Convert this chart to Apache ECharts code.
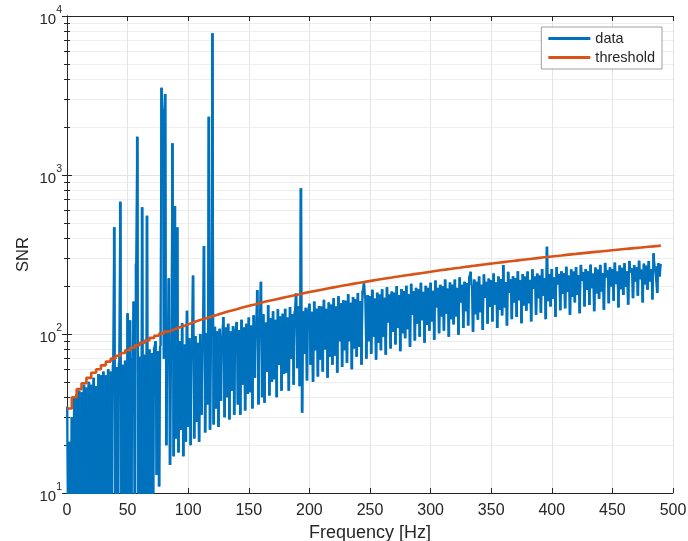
<!DOCTYPE html>
<html>
<head>
<meta charset="utf-8">
<script src="https://cdn.jsdelivr.net/npm/echarts@6/dist/echarts.min.js"></script>
<style>
html, body { margin: 0; padding: 0; background: #fff; }
#main { width: 688px; height: 541px; }
</style>
</head>
<body>
<div id="main"></div>
<script>
// SNR spectrum, one value per Hz starting at 0 Hz
const df = 1;
const snr = [
    35, 3, 21, 2, 30, 5, 40, 2, 42, 4,
    44, 3, 43, 6, 48, 2, 46, 5, 50, 3,
    48, 6, 53, 3, 47, 8, 56, 2, 55, 4,
    58, 3, 55, 7, 60, 2, 58, 5, 64, 469,
    4, 62, 3, 66, 679, 3, 64, 6, 68, 2,
    135, 5, 122, 3, 70, 160, 4, 278, 1741, 7,
    72, 4, 626, 8, 74, 3, 555, 5, 80, 2,
    76, 6, 82, 90, 13, 78, 11, 84, 3540, 2600,
    70, 3230, 20, 88, 224, 15, 84, 1581, 17, 638,
    22, 469, 18, 90, 25, 117, 17, 86, 21, 140,
    26, 94, 20, 90, 233, 22, 97, 28, 88, 21,
    100, 31, 92, 357, 24, 101, 36, 2327, 25, 98,
    7780, 27, 111, 34, 104, 26, 108, 38, 97, 128,
    30, 110, 40, 116, 29, 104, 44, 112, 31, 107,
    119, 36, 106, 31, 123, 48, 110, 33, 116, 42,
    127, 43, 113, 34, 131, 53, 118, 189, 36, 122,
    213, 40, 133, 37, 118, 58, 152, 41, 126, 50,
    139, 52, 123, 40, 143, 64, 129, 44, 134, 56,
    144, 57, 127, 44, 148, 70, 133, 48, 139, 180,
    61, 150, 47, 825, 32, 139, 75, 146, 51, 142,
    155, 64, 138, 50, 160, 79, 144, 54, 150, 69,
    149, 58, 164, 80, 144, 53, 158, 72, 153, 64,
    168, 73, 149, 57, 173, 90, 156, 62, 163, 79,
    162, 66, 178, 90, 157, 60, 171, 81, 166, 72,
    181, 83, 161, 64, 187, 208, 168, 70, 176, 90,
    173, 75, 190, 96, 167, 69, 182, 88, 177, 79,
    191, 96, 169, 74, 197, 118, 177, 81, 185, 103,
    182, 86, 200, 109, 176, 78, 192, 101, 186, 94,
    201, 107, 178, 83, 207, 132, 186, 91, 195, 116,
    191, 96, 210, 122, 184, 88, 201, 114, 195, 105,
    210, 120, 187, 92, 217, 147, 195, 101, 204, 129,
    200, 105, 220, 134, 193, 96, 211, 124, 204, 115,
    220, 129, 195, 99, 227, 158, 204, 109, 213, 139,
    209, 113, 230, 246, 202, 103, 220, 133, 213, 123,
    230, 137, 204, 106, 237, 169, 213, 116, 223, 148,
    218, 120, 240, 153, 211, 109, 230, 142, 222, 131,
    272, 147, 212, 113, 246, 181, 221, 124, 231, 158,
    225, 128, 248, 163, 218, 117, 238, 151, 230, 140,
    247, 156, 219, 120, 255, 192, 230, 132, 240, 168,
    233, 136, 256, 174, 225, 124, 354, 161, 238, 149,
    256, 166, 227, 128, 264, 205, 238, 141, 248, 179,
    241, 145, 265, 184, 233, 132, 255, 171, 247, 158,
    264, 176, 234, 135, 272, 216, 245, 149, 256, 189,
    248, 152, 273, 194, 240, 139, 262, 180, 254, 166,
    272, 185, 241, 142, 280, 227, 252, 156, 263, 199,
    256, 162, 281, 206, 247, 147, 270, 191, 261, 176,
    279, 198, 248, 153, 288, 244, 259, 168, 271, 214,
    263, 174, 289, 221, 254, 158, 277, 205, 269, 190,
    288, 214, 255, 165, 322, 263, 267, 181, 279, 230,
    276
];

// detection threshold, stepped every 4 Hz
const thrStep = 4;
const thrEnd = 490;
const threshold = [
    34, 40, 45, 49, 53, 57, 60, 63.5, 67, 70,
    73, 76, 79, 82, 85, 88, 91, 94.5, 97.5, 100.5,
    103.5, 106.5, 109.5, 112, 115, 118, 121, 124, 126.5, 129.5,
    132, 135, 138, 140.5, 143, 146, 149, 151.5, 154, 157,
    160, 162.5, 165, 167.5, 170.5, 173, 175.5, 178, 181, 183.5,
    186, 188.7, 191.3, 193.9, 196.5, 199.1, 201.6, 204.2, 206.7, 209.2,
    211.7, 214.2, 216.7, 219.2, 221.7, 224.2, 226.6, 229.1, 231.5, 234,
    236.4, 238.9, 241.3, 243.7, 246.1, 249, 251.5, 253.9, 256.4, 258.9,
    261.3, 263.8, 266.2, 268.7, 271.1, 273.6, 276, 278.4, 280.9, 283.3,
    285.7, 288.1, 290.5, 292.9, 295.3, 297.7, 300.1, 302.5, 304.9, 307.3,
    309.7, 312, 314.4, 316.7, 319, 321.4, 323.7, 326, 328.3, 330.6,
    332.9, 335.2, 337.5, 339.8, 342.1, 344.4, 346.7, 349, 351.3, 353.6,
    355.9, 358.2, 360.5
];

const xMin = 0, xMax = 500, xStep = 50;
const yMin = 10, yMax = 10000;

const font = 'Liberation Sans';
const ink = '#262626';
const blue = '#0072BD';
const orange = '#D95319';

let snrData = snr.map((v, i) => [i * df, v]);
// each step of the trace as [f, value, next value], so the dense trace is drawn solid
let stepData = snr.slice(0, -1).map((v, i) => [i * df, v, snr[i + 1]]);
let thrData = threshold.map((v, i) => [i * thrStep, v]);
thrData.push([thrEnd, threshold[threshold.length - 1]]);

let logLabel = function (v) {
    return '{b|10}{e|' + Math.round(Math.log10(v)) + '}';
};

let xBase = {
    type: 'value',
    min: xMin,
    max: xMax,
    interval: xStep,
    axisLine: { show: true, onZero: false, lineStyle: { color: ink, width: 1 } },
    axisTick: { show: true, inside: true, length: 5, lineStyle: { color: ink } }
};
let yBase = {
    type: 'log',
    logBase: 10,
    min: yMin,
    max: yMax,
    axisLine: { show: true, lineStyle: { color: ink, width: 1 } },
    axisTick: { show: true, inside: true, length: 5, lineStyle: { color: ink } },
    minorTick: { show: true, splitNumber: 9, length: 3, lineStyle: { color: ink } }
};

let myChart = echarts.init(document.getElementById('main'), null, { renderer: 'canvas' });
myChart.setOption({
    animation: false,
    backgroundColor: '#fff',
    textStyle: { fontFamily: font },
    grid: { left: 67, right: 15, top: 16, bottom: 48, containLabel: false, outerBoundsMode: 'none' },
    legend: {
        orient: 'vertical',
        right: 26,
        top: 27,
        padding: [4, 7, 4, 7],
        icon: 'rect',
        itemWidth: 42,
        itemHeight: 3,
        itemGap: 4,
        backgroundColor: '#fff',
        borderColor: '#a0a0a0',
        borderWidth: 1,
        borderRadius: 0,
        textStyle: { fontFamily: font, fontSize: 14.5, lineHeight: 14.5, color: ink },
        data: ['data', 'threshold'],
        selectedMode: false
    },
    xAxis: [
        Object.assign({}, xBase, {
            position: 'bottom',
            name: 'Frequency [Hz]',
            nameLocation: 'middle',
            nameGap: 31,
            nameMoveOverlap: false,
            nameTextStyle: { fontFamily: font, fontSize: 18, color: ink },
            axisLabel: { show: true, margin: 10, fontFamily: font, fontSize: 16, color: ink },
            splitLine: { show: true, lineStyle: { color: '#e4e4e4', width: 1 } }
        }),
        Object.assign({}, xBase, {
            position: 'top',
            axisLabel: { show: false },
            splitLine: { show: false }
        })
    ],
    yAxis: [
        Object.assign({}, yBase, {
            position: 'left',
            name: 'SNR',
            nameLocation: 'middle',
            nameGap: 35.5,
            nameMoveOverlap: false,
            nameTextStyle: { fontFamily: font, fontSize: 16.5, color: ink },
            axisLabel: {
                show: true,
                margin: 5,
                formatter: logLabel,
                lineHeight: 22,
                rich: {
                    b: { fontFamily: font, fontSize: 15, color: ink, verticalAlign: 'bottom' },
                    e: { fontFamily: font, fontSize: 10.5, color: ink, verticalAlign: 'top' }
                }
            },
            splitLine: { show: true, lineStyle: { color: '#e4e4e4', width: 1 } },
            minorSplitLine: { show: true, lineStyle: { color: '#eeeeee', width: 1 } }
        }),
        Object.assign({}, yBase, {
            position: 'right',
            axisLabel: { show: false },
            splitLine: { show: false }
        })
    ],
    series: [
        {
            type: 'custom',
            coordinateSystem: 'cartesian2d',
            xAxisIndex: 0,
            yAxisIndex: 0,
            data: stepData,
            encode: { x: 0, y: [1, 2] },
            clip: true,
            silent: true,
            z: 2,
            renderItem: function (params, api) {
                let f = api.value(0);
                let a = api.coord([f, api.value(1)]);
                let b = api.coord([f + df, api.value(2)]);
                let top = Math.min(a[1], b[1]);
                let bottom = Math.max(a[1], b[1]);
                return {
                    type: 'rect',
                    shape: { x: a[0] - 0.2, y: top, width: b[0] - a[0] + 0.4, height: bottom - top },
                    style: { fill: blue }
                };
            }
        },
        {
            name: 'data',
            type: 'line',
            xAxisIndex: 0,
            yAxisIndex: 0,
            data: snrData,
            symbol: 'none',
            clip: true,
            lineStyle: { color: blue, width: 2 },
            itemStyle: { color: blue },
            z: 2
        },
        {
            name: 'threshold',
            type: 'line',
            xAxisIndex: 0,
            yAxisIndex: 0,
            data: thrData,
            step: 'end',
            symbol: 'none',
            clip: true,
            lineStyle: { color: orange, width: 2.6 },
            itemStyle: { color: orange },
            z: 3
        }
    ]
});
</script>
</body>
</html>
